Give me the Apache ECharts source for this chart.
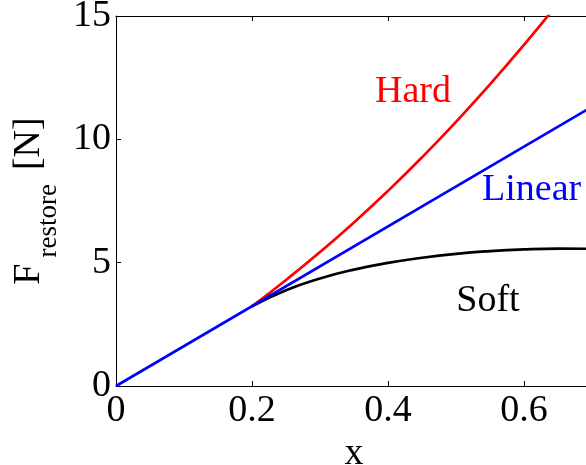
<!DOCTYPE html>
<html>
<head>
  <meta charset="utf-8">
  <title>Restoring force</title>
  <script src="https://cdn.jsdelivr.net/npm/echarts@6/dist/echarts.min.js"></script>
  <style>
    html, body {
      margin: 0;
      padding: 0;
      background: #fff;
    }
    #chart1 {
      width: 586px;
      height: 465px;
    }
  </style>
</head>
<body>
<div id="chart1"></div>
<script>
  // values
  var xLinear = [0, 0.7];
  var fLinear = [0, 11.32];

  // hard / soft split off the linear line at x = 0.2
  var xCurve = [0.2, 0.25, 0.3, 0.35, 0.4, 0.45, 0.5, 0.55, 0.6, 0.65, 0.7];
  var fHard = [3.23, 4.30, 5.43, 6.63, 7.91, 9.27, 10.71, 12.23, 13.83, 15.51, 17.27];
  var fSoft = [3.23, 3.88, 4.36, 4.72, 4.99, 5.2, 5.36, 5.47, 5.54, 5.57, 5.56];

  var xTicks = [0, 0.2, 0.4, 0.6];
  var yTicks = [0, 5, 10, 15];

  var serif = 'Liberation Serif';

  function pairs(xs, ys) {
    var out = [];
    for (var i = 0; i < xs.length; i++) {
      out.push([xs[i], ys[i]]);
    }
    return out;
  }

  var chart1 = echarts.init(document.getElementById('chart1'));

  var tickStyle = {show: true, inside: true, length: 5, lineStyle: {color: '#000', width: 1}};
  var lineStyleAxis = {show: true, onZero: false, lineStyle: {color: '#000', width: 1}};

  var option1 = {
    animation: false,
    backgroundColor: '#fff',
    textStyle: {fontFamily: serif},
    grid: {left: 116, right: -6, top: 16, bottom: 79, outerBoundsMode: 'none', containLabel: false},
    xAxis: [
      {
        type: 'value',
        min: 0,
        max: 0.7,
        interval: 0.2,
        position: 'bottom',
        name: 'x',
        nameLocation: 'middle',
        nameGap: 37,
        nameTextStyle: {fontFamily: serif, fontSize: 38, color: '#000'},
        axisLine: lineStyleAxis,
        axisTick: tickStyle,
        splitLine: {show: false},
        axisLabel: {
          fontFamily: serif,
          fontSize: 38,
          color: '#000',
          margin: 6,
          showMaxLabel: false,
          formatter: function (v) {
            return xTicks.indexOf(Math.round(v * 10) / 10) >= 0 ? String(v) : '';
          }
        }
      },
      {
        type: 'value',
        min: 0,
        max: 0.7,
        interval: 0.2,
        position: 'top',
        axisLine: lineStyleAxis,
        axisTick: tickStyle,
        splitLine: {show: false},
        axisLabel: {show: false}
      }
    ],
    yAxis: {
      type: 'value',
      min: yTicks[0],
      max: yTicks[yTicks.length - 1],
      interval: 5,
      name: '{f|F}{sub|restore}{f|[N]}',
      nameLocation: 'middle',
      nameRotate: 90,
      nameGap: 53,
      nameTextStyle: {
        color: '#000',
        rich: {
          f: {fontFamily: serif, fontSize: 38, lineHeight: 38, color: '#000', verticalAlign: 'top'},
          sub: {fontFamily: serif, fontSize: 27, lineHeight: 27, color: '#000', verticalAlign: 'top', padding: [25, 14, 0, 6]}
        }
      },
      axisLine: lineStyleAxis,
      axisTick: tickStyle,
      splitLine: {show: false},
      axisLabel: {fontFamily: serif, fontSize: 38, color: '#000', margin: 5}
    },
    series: [
      {
        name: 'Soft',
        type: 'line',
        smooth: 0.5,
        showSymbol: false,
        lineStyle: {color: '#000', width: 2.7},
        data: pairs(xCurve, fSoft)
      },
      {
        name: 'Hard',
        type: 'line',
        smooth: 0.5,
        showSymbol: false,
        lineStyle: {color: '#ff0000', width: 2.7},
        data: pairs(xCurve, fHard)
      },
      {
        name: 'Linear',
        type: 'line',
        showSymbol: false,
        lineStyle: {color: '#0000ff', width: 2.7},
        data: pairs(xLinear, fLinear)
      }
    ],
    graphic: [
      {type: 'text', x: 413, y: 92, style: {text: 'Hard', fill: '#ff0000', font: '38px "Liberation Serif"', align: 'center', verticalAlign: 'middle'}},
      {type: 'text', x: 482, y: 190, style: {text: 'Linear', fill: '#0000ff', font: '38px "Liberation Serif"', align: 'left', verticalAlign: 'middle'}},
      {type: 'text', x: 488, y: 301, style: {text: 'Soft', fill: '#000', font: '38px "Liberation Serif"', align: 'center', verticalAlign: 'middle'}}
    ]
  };

  chart1.setOption(option1);
</script>
</body>
</html>
